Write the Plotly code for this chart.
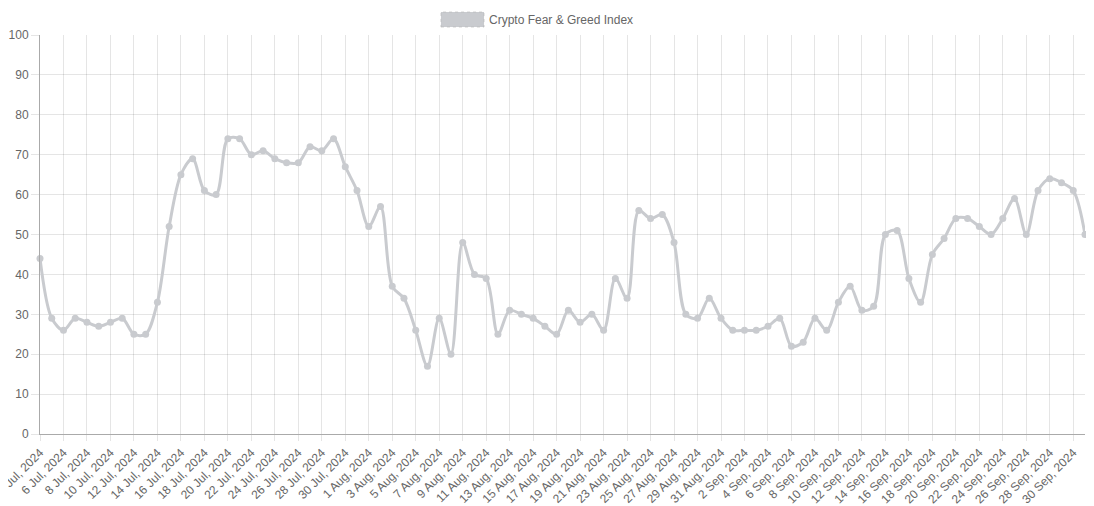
import pandas as pd
import plotly.graph_objects as go

# Crypto Fear & Greed Index, daily, 4 Jul 2024 - 1 Oct 2024
start_date = "2024-07-04"
fear_greed = [
    44, 29, 26, 29, 28, 27, 28, 29, 25, 25,
    33, 52, 65, 69, 61, 60, 74, 74, 70, 71,
    69, 68, 68, 72, 71, 74, 67, 61, 52, 57,
    37, 34, 26, 17, 29, 20, 48, 40, 39, 25,
    31, 30, 29, 27, 25, 31, 28, 30, 26, 39,
    34, 56, 54, 55, 48, 30, 29, 34, 29, 26,
    26, 26, 27, 29, 22, 23, 29, 26, 33, 37,
    31, 32, 50, 51, 39, 33, 45, 49, 54, 54,
    52, 50, 54, 59, 50, 61, 64, 63, 61, 50,
]
y_ticks = [0, 10, 20, 30, 40, 50, 60, 70, 80, 90, 100]

dates = pd.date_range(start_date, periods=len(fear_greed), freq="D")
labels = [f"{d.day} {d.strftime('%b')}, {d.year}" for d in dates]
tick_labels = labels[::2]

grey = "rgb(201,203,207)"
grid = "rgba(0,0,0,0.1)"
font_color = "#666666"

fig = go.Figure()
fig.add_trace(go.Scatter(
    x=labels,
    y=fear_greed,
    mode="lines+markers",
    name="Crypto Fear & Greed Index",
    line=dict(color=grey, width=3, shape="spline", smoothing=0.9),
    marker=dict(color=grey, size=7),
    cliponaxis=False,
    showlegend=False,
))

# legend in Chart.js style: filled box + label
fig.add_shape(type="rect", xref="paper", yref="paper",
              x0=0.3837, x1=0.4249, y0=1.020, y1=1.0576,
              fillcolor=grey, line=dict(color="rgba(180,180,180,0.6)", width=1, dash="dot"))
fig.add_annotation(text="Crypto Fear & Greed Index", xref="paper", yref="paper",
                   x=0.4280, y=1.0388, xanchor="left", yanchor="middle", showarrow=False,
                   font=dict(size=12, color=font_color))

# page body adds an 8px offset, so the figure is sized to fill the rest of the window
fig.update_layout(
    width=1086,
    height=498,
    margin=dict(l=32, r=9, t=27, b=72),
    plot_bgcolor="white",
    paper_bgcolor="white",
    font=dict(family="Liberation Sans, Arial, sans-serif", size=12, color=font_color),
)
fig.update_xaxes(
    type="category",
    range=[0, len(fear_greed) - 1],
    tickmode="array",
    tickvals=tick_labels,
    ticktext=tick_labels,
    tickangle=-45,
    automargin=False,
    showgrid=True,
    gridcolor=grid,
    gridwidth=1,
    ticks="outside",
    ticklen=6,
    tickcolor=grid,
    showline=True,
    linecolor="#aaaaaa",
    linewidth=1,
    zeroline=False,
)
fig.update_yaxes(
    range=[0, 100],
    tickvals=y_ticks,
    automargin=False,
    showgrid=True,
    gridcolor=grid,
    gridwidth=1,
    ticks="outside",
    ticklen=8,
    tickcolor=grid,
    showline=True,
    linecolor="#aaaaaa",
    linewidth=1,
    zeroline=False,
)

fig.write_html("out.html")
